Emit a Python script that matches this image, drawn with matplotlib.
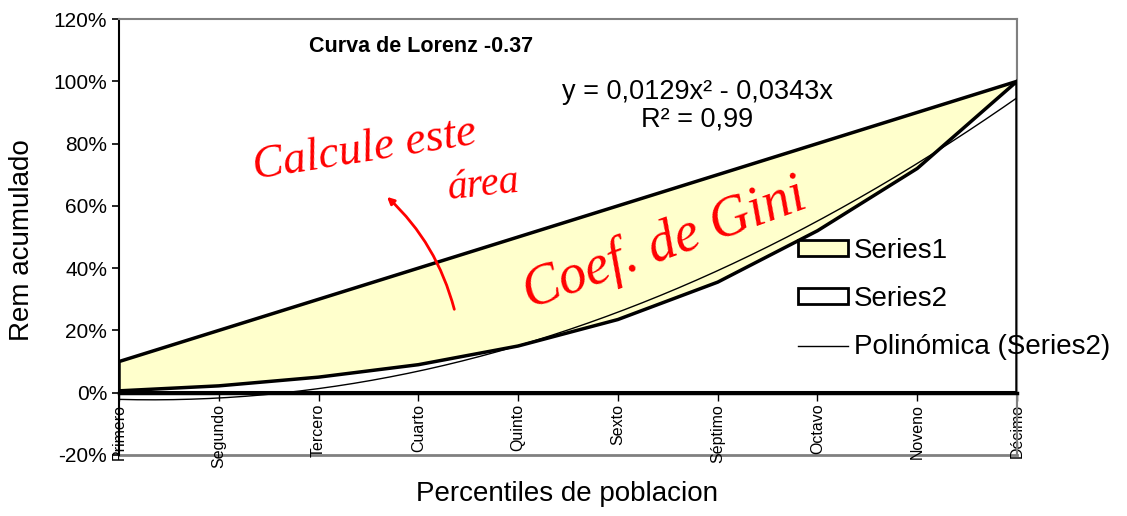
import numpy as np
import matplotlib
matplotlib.use("Agg")
import matplotlib.pyplot as plt
from matplotlib.patches import Patch
from matplotlib.lines import Line2D
from matplotlib.ticker import PercentFormatter

plt.rcParams['font.family'] = ['Liberation Sans', 'DejaVu Sans']
plt.rcParams['axes.unicode_minus'] = False

categorias = ['Primero', 'Segundo', 'Tercero', 'Cuarto', 'Quinto',
              'Sexto', 'Séptimo', 'Octavo', 'Noveno', 'Décimo']
series1 = [0.10, 0.20, 0.30, 0.40, 0.50, 0.60, 0.70, 0.80, 0.90, 1.00]
series2 = [0.006, 0.022, 0.05, 0.09, 0.15, 0.235, 0.355, 0.52, 0.72, 1.00]
# trendline coefficients as printed on the chart (x^2, x, const)
trend_coef = [0.0129, -0.0343, 0.0]
y_ticks = [-0.2, 0.0, 0.2, 0.4, 0.6, 0.8, 1.0, 1.2]

W, H = 1127, 516
fig = plt.figure(figsize=(W / 100, H / 100), dpi=100)
ax = fig.add_axes([119 / W, 1 - 455 / H, (1017 - 119) / W, (455 - 19) / H])

x = np.arange(1, len(categorias) + 1)
yellow = '#FFFFCC'

# Series1 area (equality line)
ax.fill(np.r_[x, x[-1], x[0]], np.r_[series1, 0, 0], facecolor=yellow,
        edgecolor='black', lw=2.5, joinstyle='miter', zorder=2)
# Series2 area (Lorenz curve)
ax.fill(np.r_[x, x[-1], x[0]], np.r_[series2, 0, 0], facecolor='white',
        edgecolor='black', lw=2.5, joinstyle='miter', zorder=3)
# polynomial trendline
xt = np.linspace(1, 10, 200)
ax.plot(xt, np.polyval(trend_coef, xt), color='black', lw=1, zorder=4)

# axis at 0%, border gray
for s in ['top', 'right']:
    ax.spines[s].set_color('#808080')
    ax.spines[s].set_linewidth(1.5)
ax.spines['left'].set_color('black')
ax.spines['left'].set_linewidth(1.5)
ax.spines['bottom'].set_position(('data', 0))
ax.spines['bottom'].set_linewidth(2.5)
ax.spines['bottom'].set_zorder(5)
ax.axhline(-0.2, color='#808080', lw=2, clip_on=False, zorder=1)
ax.axvline(10, ymin=0, ymax=1, color='#808080', lw=1.5, zorder=1)

ax.set_xlim(1, 10)
ax.set_ylim(-0.2, 1.2)
ax.set_yticks(y_ticks)
ax.yaxis.set_major_formatter(PercentFormatter(1.0, decimals=0))
ax.set_xticks(x)
ax.set_xticklabels(categorias)
ax.tick_params(axis='y', labelsize=15, length=5, width=1.2, direction='out')
ax.tick_params(axis='x', labelsize=11.5, labelrotation=90, length=6,
               width=1, direction='out', pad=2)

fig.text(22 / W, 1 - 240 / H, 'Rem acumulado', rotation=90, fontsize=20,
         ha='center', va='center')
fig.text(567 / W, 1 - 494 / H, 'Percentiles de poblacion', fontsize=20,
         ha='center', va='center')

fig.text(421 / W, 1 - 46 / H, 'Curva de Lorenz -0.37', fontsize=15.5,
         fontweight='bold', ha='center', va='center')
fig.text(697 / W, 1 - 106 / H, 'y = 0,0129x² - 0,0343x\nR² = 0,99',
         fontsize=19.5, ha='center', va='center', linespacing=1.1)

# handwritten red notes
fig.text(365 / W, 1 - 150 / H, 'Calcule este', color='red', fontsize=33,
         family='Liberation Serif', style='italic', rotation=9,
         ha='center', va='center')
fig.text(484 / W, 1 - 186 / H, 'área', color='red', fontsize=29,
         family='Liberation Serif', style='italic', rotation=6,
         ha='center', va='center')
fig.text(665 / W, 1 - 245 / H, 'Coef. de Gini', color='red', fontsize=40,
         family='Liberation Serif', style='italic', rotation=20,
         ha='center', va='center')
ax.annotate('', xy=(385 / W, 1 - 195 / H), xytext=(455 / W, 1 - 312 / H),
            xycoords='figure fraction', textcoords='figure fraction',
            arrowprops=dict(arrowstyle='-|>', color='red', lw=2,
                            connectionstyle='arc3,rad=0.15'), zorder=6)

handles = [Patch(facecolor=yellow, edgecolor='black', lw=2),
           Patch(facecolor='white', edgecolor='black', lw=2),
           Line2D([0], [0], color='black', lw=1)]
fig.legend(handles, ['Series1', 'Series2', 'Polinómica (Series2)'],
           loc='upper left', bbox_to_anchor=(798 / W, 1 - 238 / H),
           frameon=False, fontsize=20, handlelength=1.8, handleheight=0.5,
           handletextpad=0.2, labelspacing=0.8, borderpad=0,
           borderaxespad=0)

fig.savefig('out.png', dpi=100)
